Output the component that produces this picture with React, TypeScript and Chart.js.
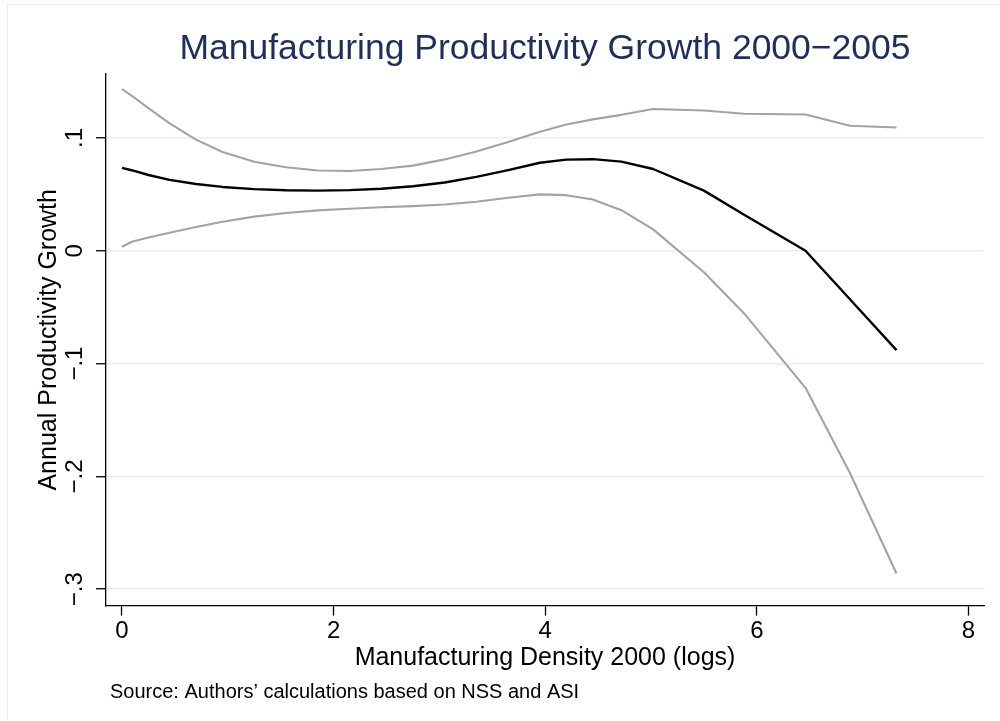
import React, { useEffect, useRef } from "react";
import { Chart, registerables } from "chart.js";

Chart.register(...registerables);

// ---- Data ----
const xValues = [0, 0.1, 0.25, 0.45, 0.7, 0.95, 1.25, 1.55, 1.85, 2.15, 2.45, 2.75, 3.05, 3.35, 3.65, 3.95, 4.2, 4.45, 4.72, 5.02, 5.5, 5.88, 6.46, 6.88, 7.32];

const fitValues = [0.0735, 0.0712, 0.0672, 0.0628, 0.0592, 0.0566, 0.0547, 0.0536, 0.0533, 0.0538, 0.055, 0.0572, 0.0605, 0.0655, 0.0715, 0.078, 0.0808, 0.0812, 0.079, 0.0725, 0.0533, 0.032, 0.0, -0.043, -0.088];

const upperValues = [0.1434, 0.1368, 0.1265, 0.113, 0.0985, 0.0875, 0.079, 0.074, 0.0712, 0.0707, 0.0725, 0.0755, 0.081, 0.088, 0.0965, 0.1055, 0.112, 0.1165, 0.1205, 0.1257, 0.1243, 0.1215, 0.1208, 0.1108, 0.1093];

const lowerValues = [0.0036, 0.0082, 0.0118, 0.016, 0.021, 0.0258, 0.0303, 0.0335, 0.0358, 0.0373, 0.0386, 0.0396, 0.041, 0.0435, 0.047, 0.05, 0.0493, 0.0455, 0.036, 0.019, -0.019, -0.0555, -0.1215, -0.197, -0.286];

const xTicks = [0, 2, 4, 6, 8];
const xTickLabels = ["0", "2", "4", "6", "8"];
const yTicks = [-0.3, -0.2, -0.1, 0, 0.1];
const yTickLabels = ["\u2212.3", "\u2212.2", "\u2212.1", "0", ".1"];

const titleText = "Manufacturing Productivity Growth 2000\u22122005";
const xTitleText = "Manufacturing Density 2000 (logs)";
const yTitleText = "Annual Productivity Growth";
const sourceText = "Source: Authors\u2019 calculations based on NSS and ASI";

const FONT = "'Liberation Sans', Arial, Helvetica, sans-serif";

const toPoints = (ys: number[]) => xValues.map((x, i) => ({ x, y: ys[i] }));

const labelFor = (ticks: number[], labels: string[], v: number) => {
  const i = ticks.findIndex((t) => Math.abs(t - v) < 1e-9);
  return i >= 0 ? labels[i] : "";
};

const decorPlugin = {
  id: "decor",
  beforeDraw(chart: any) {
    const ctx = chart.ctx;
    ctx.save();
    ctx.fillStyle = "#ffffff";
    ctx.fillRect(0, 0, chart.width, chart.height);
    ctx.strokeStyle = "#e3ebee";
    ctx.lineWidth = 1;
    ctx.beginPath();
    ctx.moveTo(7.5, chart.height);
    ctx.lineTo(7.5, 4.5);
    ctx.lineTo(chart.width, 4.5);
    ctx.stroke();
    ctx.restore();
  },
  afterDraw(chart: any) {
    const ctx = chart.ctx;
    ctx.save();
    ctx.fillStyle = "#000000";
    ctx.font = `20px ${FONT}`;
    ctx.textAlign = "left";
    ctx.textBaseline = "alphabetic";
    ctx.fillText(sourceText, 110, 698);
    ctx.restore();
  },
};

export default function App() {
  const ref = useRef<HTMLCanvasElement>(null);

  useEffect(() => {
    if (!ref.current) return;
    const chart = new Chart(ref.current, {
      type: "line",
      data: {
        datasets: [
          {
            label: "Fit",
            data: toPoints(fitValues),
            borderColor: "#000000",
            borderWidth: 2.4,
            pointRadius: 0,
            tension: 0,
            fill: false,
            borderJoinStyle: "round",
          },
          {
            label: "Upper",
            data: toPoints(upperValues),
            borderColor: "#a3a3a3",
            borderWidth: 2.1,
            pointRadius: 0,
            tension: 0,
            fill: false,
            borderJoinStyle: "round",
          },
          {
            label: "Lower",
            data: toPoints(lowerValues),
            borderColor: "#a3a3a3",
            borderWidth: 2.1,
            pointRadius: 0,
            tension: 0,
            fill: false,
            borderJoinStyle: "round",
          },
        ],
      },
      options: {
        responsive: false,
        animation: false,
        devicePixelRatio: 1,
        layout: { padding: { left: 0, right: 16, top: 0, bottom: 50.2 } },
        plugins: {
          legend: { display: false },
          tooltip: { enabled: false },
          title: {
            display: true,
            text: titleText,
            color: "#1f2f5b",
            fullSize: false,
            font: { family: FONT, size: 35.5, weight: "normal", lineHeight: 1 },
            padding: { top: 31.5, bottom: 7 },
          },
        },
        scales: {
          x: {
            type: "linear",
            min: -0.151,
            max: 8.147,
            afterBuildTicks: (s: any) => {
              s.ticks = xTicks.map((v) => ({ value: v }));
            },
            afterFit: (s: any) => {
              s.height = 65.2;
            },
            grid: {
              display: true,
              drawOnChartArea: false,
              drawTicks: true,
              tickLength: 10,
              tickColor: "#000000",
              tickWidth: 1.3,
            },
            border: { display: true, color: "#000000", width: 1.3 },
            ticks: {
              color: "#000000",
              font: { family: FONT, size: 24 },
              padding: 1,
              minRotation: 0,
              maxRotation: 0,
              autoSkip: false,
              callback: (v: any) => labelFor(xTicks, xTickLabels, Number(v)),
            },
            title: {
              display: true,
              text: xTitleText,
              color: "#000000",
              font: { family: FONT, size: 25, lineHeight: 1 },
              padding: { top: 0, bottom: 0 },
            },
          },
          y: {
            type: "linear",
            min: -0.3145,
            max: 0.1567,
            afterBuildTicks: (s: any) => {
              s.ticks = yTicks.map((v) => ({ value: v }));
            },
            afterFit: (s: any) => {
              s.width = 106;
            },
            grid: {
              display: true,
              drawOnChartArea: true,
              color: "#e6eff1",
              lineWidth: 1.5,
              drawTicks: true,
              tickLength: 10,
              tickColor: "#000000",
              tickWidth: 1.3,
            },
            border: { display: true, color: "#000000", width: 1.3 },
            ticks: {
              color: "#000000",
              font: { family: FONT, size: 24 },
              padding: 4,
              minRotation: 90,
              maxRotation: 90,
              crossAlign: "center",
              autoSkip: false,
              callback: (v: any) => labelFor(yTicks, yTickLabels, Number(v)),
            },
            title: {
              display: true,
              text: yTitleText,
              color: "#000000",
              font: { family: FONT, size: 25, lineHeight: 1 },
              padding: { top: 36.5, bottom: 0 },
            },
          },
        },
      } as any,
      plugins: [decorPlugin],
    });
    return () => chart.destroy();
  }, []);

  return (
    <div style={{ position: "absolute", left: 0, top: 0, width: 1000, height: 721, background: "#fff" }}>
      <canvas ref={ref} width={1000} height={721} style={{ display: "block", width: 1000, height: 721 }} />
    </div>
  );
}
